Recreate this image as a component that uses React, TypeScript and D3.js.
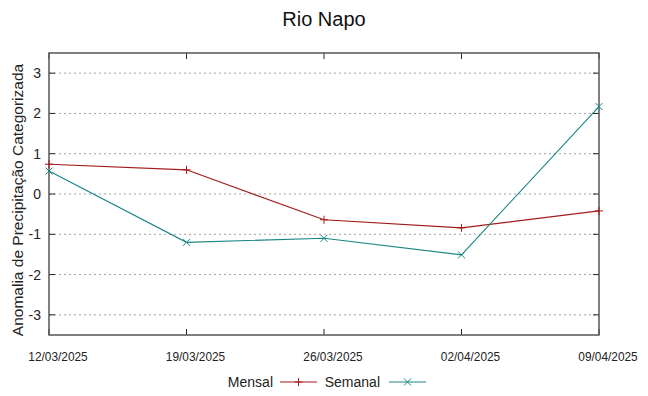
import React from "react";
import * as d3 from "d3";

const dates = ["12/03/2025", "19/03/2025", "26/03/2025", "02/04/2025", "09/04/2025"];
const mensal = [0.74, 0.6, -0.64, -0.84, -0.42];
const semanal = [0.57, -1.2, -1.1, -1.51, 2.17];
const yTicks = [-3, -2, -1, 0, 1, 2, 3];

const W = 648;
const H = 396;
const m = { left: 49, right: 599, top: 53, bottom: 335 };
const font = "'Liberation Sans', Arial, sans-serif";

const redColor = "#a31a1a";
const tealColor = "#1a8585";

export default function App() {
  const x = d3.scalePoint<string>().domain(dates).range([m.left, m.right]);
  const y = d3.scaleLinear().domain([-3.5, 3.5]).range([m.bottom, m.top]);

  const line = d3
    .line<number>()
    .x((_, i) => x(dates[i]) as number)
    .y((d) => y(d));

  const plus = (cx: number, cy: number, c: string, k: string) => (
    <path key={k} d={`M${cx - 4},${cy}H${cx + 4}M${cx},${cy - 4}V${cy + 4}`} stroke={c} strokeWidth={1} />
  );
  const cross = (cx: number, cy: number, c: string, k: string) => (
    <path key={k} d={`M${cx - 3.5},${cy - 3.5}L${cx + 3.5},${cy + 3.5}M${cx - 3.5},${cy + 3.5}L${cx + 3.5},${cy - 3.5}`} stroke={c} strokeWidth={1} />
  );

  return (
    <svg width={W} height={H} style={{ position: "absolute", left: 0, top: 0, background: "#fff" }} fontFamily={font}>
      <rect width={W} height={H} fill="#fff" />
      <text x={324} y={26} textAnchor="middle" fontSize={20} fill="#111">Rio Napo</text>

      {/* grid */}
      {yTicks.map((t) => (
        <line key={`g${t}`} x1={m.left} x2={m.right} y1={y(t)} y2={y(t)} stroke="#a0a0a0" strokeWidth={1} strokeDasharray="2,3" />
      ))}

      {/* ticks */}
      {yTicks.map((t) => (
        <g key={`t${t}`}>
          <line x1={m.left} x2={m.left + 6} y1={y(t)} y2={y(t)} stroke="#222" />
          <line x1={m.right - 6} x2={m.right} y1={y(t)} y2={y(t)} stroke="#222" />
          <text x={m.left - 8} y={y(t) + 5} textAnchor="end" fontSize={14} fill="#222">{t}</text>
        </g>
      ))}
      {dates.map((d) => {
        const cx = (x(d) as number) + 9;
        return (
          <g key={`x${d}`}>
            <line x1={x(d)} x2={x(d)} y1={m.bottom} y2={m.bottom - 6} stroke="#222" />
            <line x1={x(d)} x2={x(d)} y1={m.top} y2={m.top + 6} stroke="#222" />
            <text x={cx} y={m.bottom + 26} textAnchor="middle" fontSize={12.5} fill="#222" transform={`translate(${cx * 0.05},0) scale(0.95,1)`}>{d}</text>
          </g>
        );
      })}

      <rect x={m.left} y={m.top} width={m.right - m.left} height={m.bottom - m.top} fill="none" stroke="#555" strokeWidth={1.5} />

      {/* series */}
      <path d={line(mensal) || undefined} fill="none" stroke={redColor} strokeWidth={1.1} />
      {mensal.map((v, i) => plus(x(dates[i]) as number, y(v), redColor, `m${i}`))}
      <path d={line(semanal) || undefined} fill="none" stroke={tealColor} strokeWidth={1.1} />
      {semanal.map((v, i) => cross(x(dates[i]) as number, y(v), tealColor, `s${i}`))}

      <text transform={`translate(23,${(m.top + m.bottom) / 2 + 6}) rotate(-90)`} textAnchor="middle" fontSize={15.5} fill="#222">
        Anomalia de Precipitação Categorizada
      </text>

      {/* legend */}
      <text x={273} y={387} textAnchor="end" fontSize={14} fill="#222">Mensal</text>
      <line x1={280} x2={317} y1={382} y2={382} stroke={redColor} strokeWidth={1.1} />
      {plus(298.5, 382, redColor, "lm")}
      <text x={380} y={387} textAnchor="end" fontSize={14} fill="#222">Semanal</text>
      <line x1={389} x2={426} y1={382} y2={382} stroke={tealColor} strokeWidth={1.1} />
      {cross(407.5, 382, tealColor, "ls")}
    </svg>
  );
}
